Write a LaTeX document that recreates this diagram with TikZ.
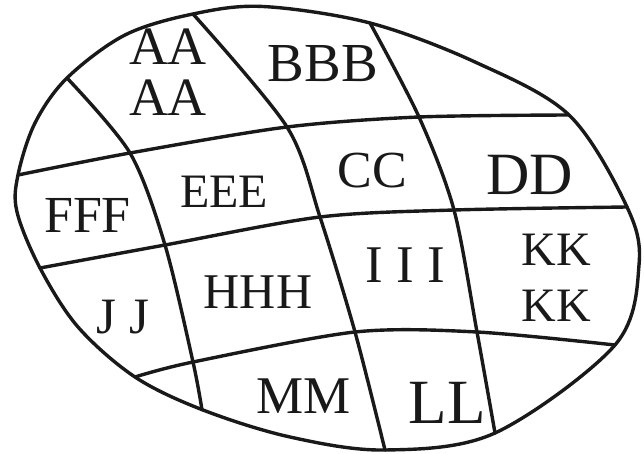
\documentclass[tikz,border=0pt]{standalone}
\usepackage{fontspec}
\setmainfont{Liberation Serif}
\begin{document}
\begin{tikzpicture}[x=1pt,y=-1pt,
  gridline/.style={line width=3.4pt,line join=round,line cap=round,draw=black!90},
  lab/.style={inner sep=0pt,outer sep=0pt,align=center,text=black!90}]
\useasboundingbox (0,0) rectangle (644,454);
% outer boundary
\draw[gridline] plot[smooth cycle,tension=0.55] coordinates {
  (263,6.5) (370,23) (475,62) (569,115) (627,207) (639,265) (615,345)
  (495,433) (385,450) (290,437) (203,410) (135,377) (78,327)
  (40,268) (17,212) (18,175) (35,123) (67,78) (125,35) (193,14)};
% vertical lines
\draw[gridline] plot[smooth] coordinates {(67,78) (130,153) (165,245) (193,362) (202,410)};
\draw[gridline] plot[smooth] coordinates {(193,14) (287,127) (320,217) (355,332) (385,450)};
\draw[gridline] plot[smooth] coordinates {(370,23) (419,117) (454,210) (477,332) (495,433)};
% horizontal lines
\draw[gridline] plot[smooth] coordinates {(18,175) (130,153) (287,127) (419,117) (569,115)};
\draw[gridline] plot[smooth] coordinates {(40,268) (165,245) (320,217) (454,210) (627,207)};
\draw[gridline] plot[smooth] coordinates {(135,377) (193,362) (355,332) (477,332) (615,345)};
% labels
\node[lab,font=\fontsize{54}{51}\selectfont] (aa) at (168,72.5) {AA\\AA};
\node[lab,font=\fontsize{55}{60}\selectfont] (bbb) at (323,64) {BBB};
\node[lab,font=\fontsize{48}{54}\selectfont] (eee) at (224,192) {EEE};
\node[lab,font=\fontsize{52}{58}\selectfont] (fff) at (87.5,215) {FFF};
\node[lab,font=\fontsize{52}{58}\selectfont] (cc) at (372,171) {CC};
\node[lab,font=\fontsize{60}{66}\selectfont] (dd) at (530,175) {DD};
\node[lab,font=\fontsize{50}{56}\selectfont] (hhh) at (258,292) {HHH};
\node[lab,font=\fontsize{51}{56}\selectfont] (jj) at (123,317) {J J};
\node[lab,font=\fontsize{53}{58}\selectfont] (mm) at (304,396.5) {MM};
\node[lab,font=\fontsize{53}{58}\selectfont] (iii) at (405,265) {I I I};
\node[lab,font=\fontsize{48}{56}\selectfont] (kk) at (556,278) {KK\\KK};
\node[lab,font=\fontsize{63}{68}\selectfont] (ll) at (447,403) {LL};
\end{tikzpicture}
\end{document}
